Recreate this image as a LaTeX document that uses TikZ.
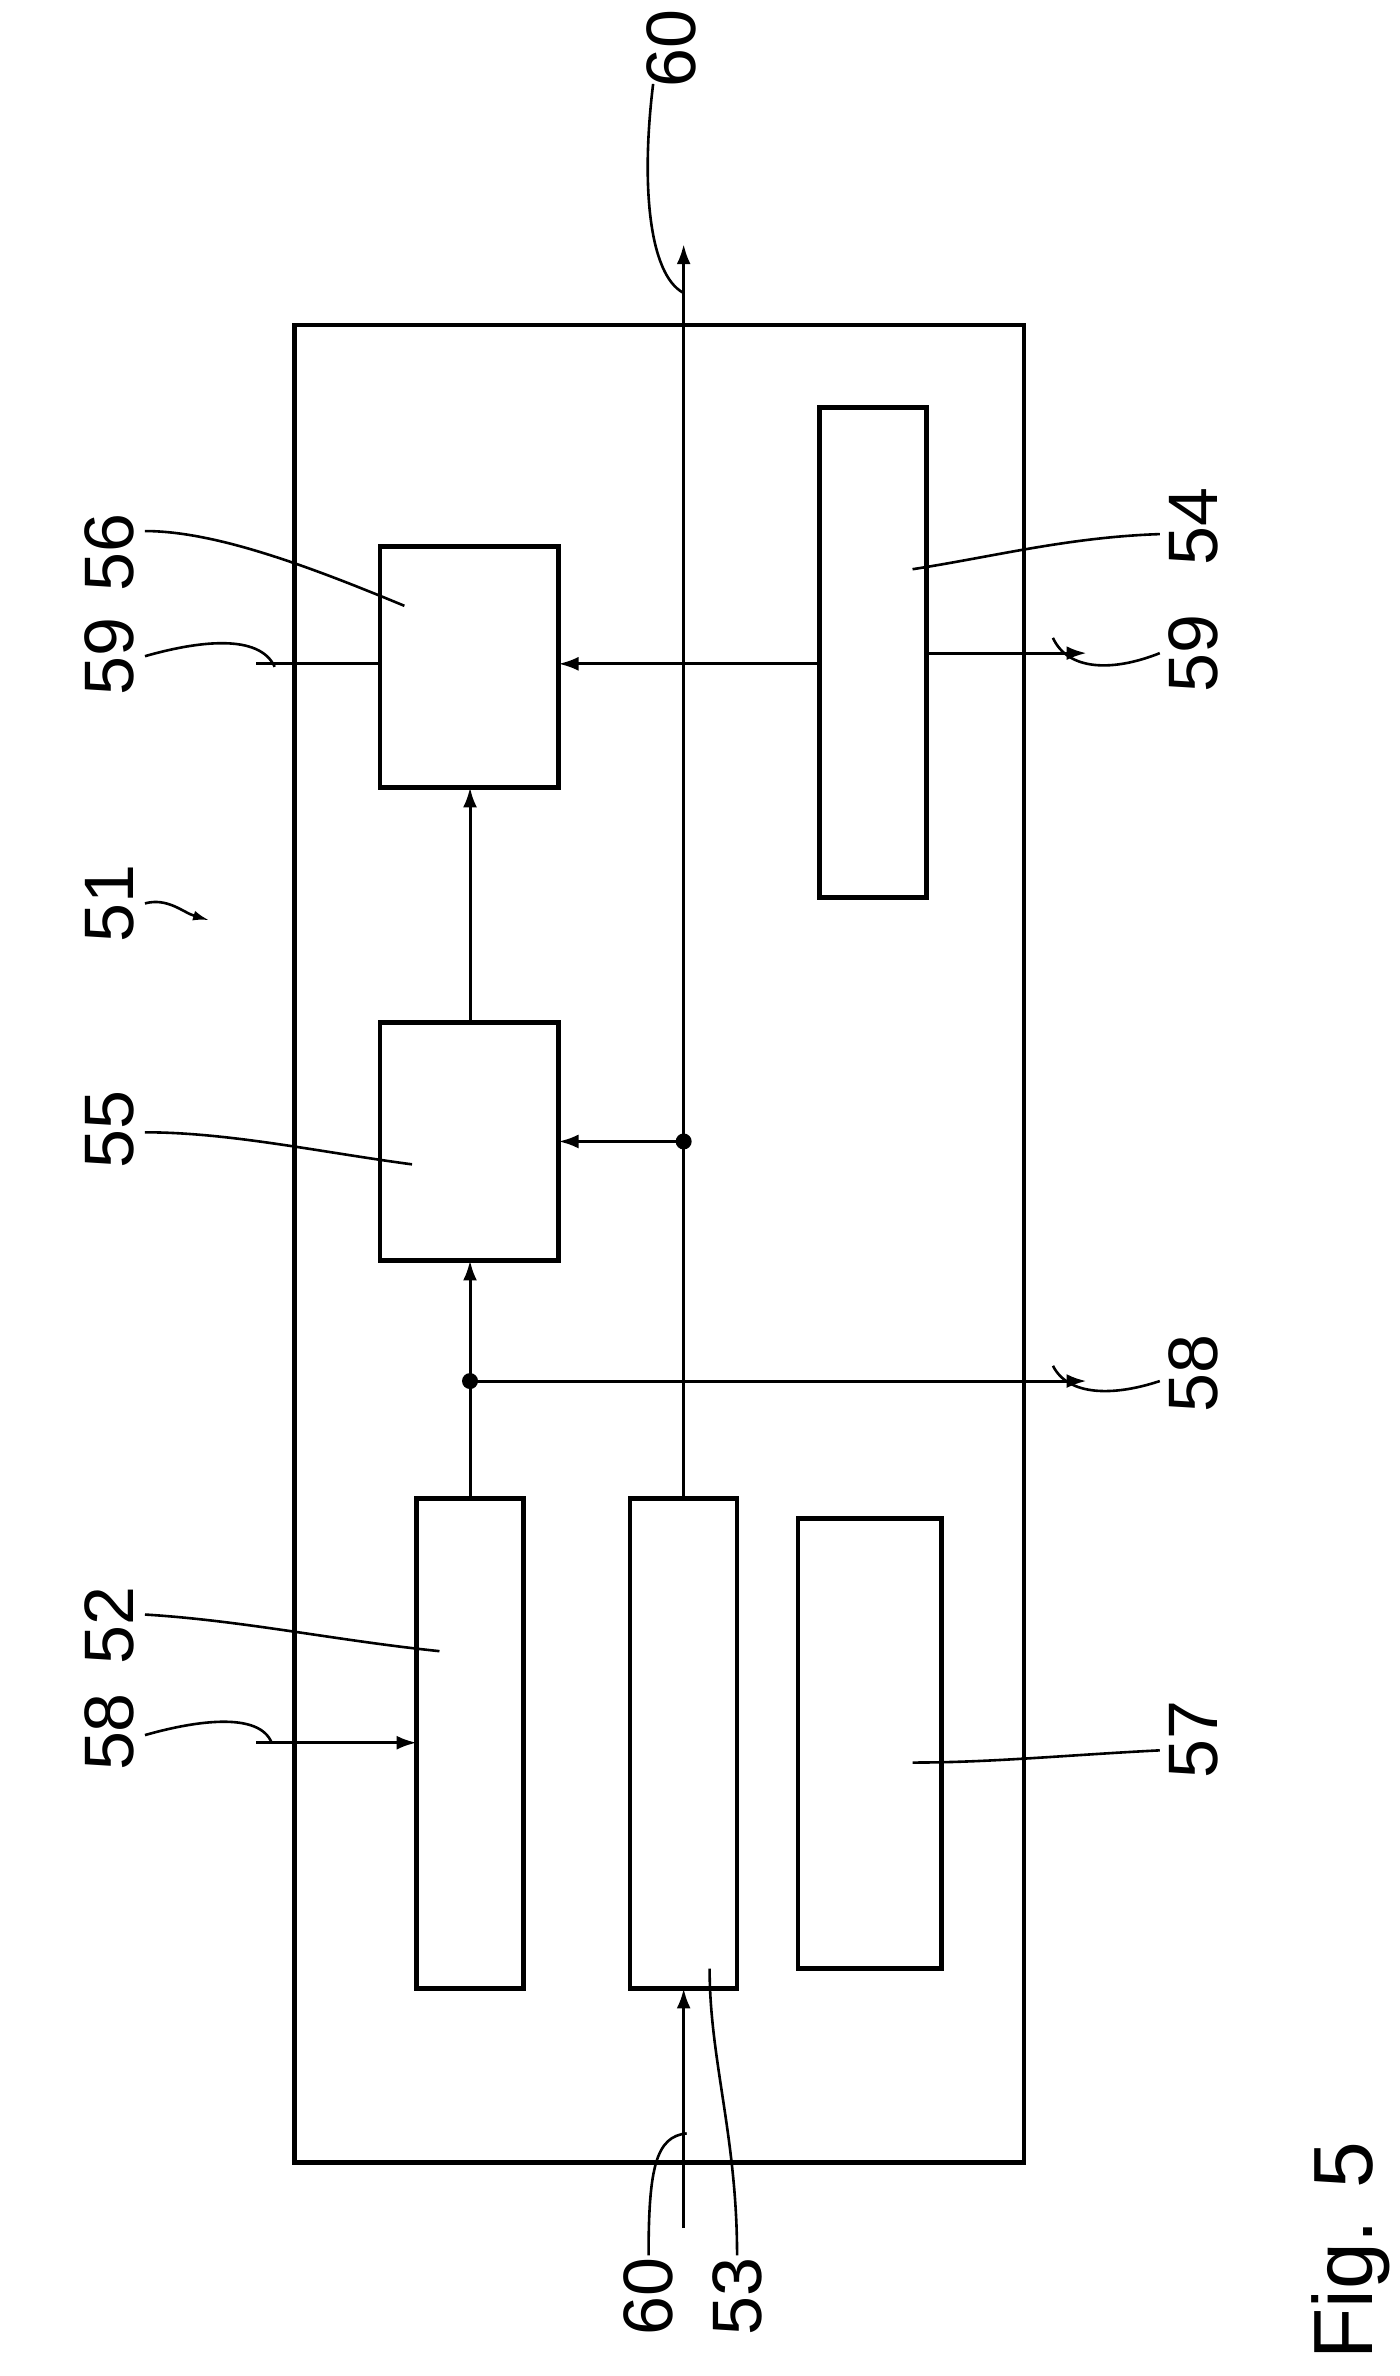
\documentclass[tikz,border=0pt]{standalone}
\usepackage{fontspec}
\setmainfont{Liberation Sans}
\usetikzlibrary{arrows.meta}
\begin{document}
\begin{tikzpicture}[x=0.763pt,y=-0.763pt,
 box/.style={draw,line width=2.2pt},
 ln/.style={line width=1.5pt},
 ar/.style={ln,-{Latex[length=10pt,width=7pt]}},
 lab/.style={rotate=90,font=\fontsize{35}{35}\selectfont,inner sep=0pt},
 ld/.style={line width=1.3pt},
 dot/.style={circle,fill,inner sep=0pt,minimum size=8pt}]
\useasboundingbox (0,0) rectangle (917,1557);
\draw[box] (193,213) rectangle (671,1417);
\draw[box] (249,358) rectangle (366,516);
\draw[box] (249,670) rectangle (366,826);
\draw[box] (273,982) rectangle (343,1303);
\draw[box] (413,982) rectangle (483,1303);
\draw[box] (523,995) rectangle (617,1290);
\draw[box] (537,267) rectangle (607,588);
\coordinate (d1) at (448,748);
\coordinate (d2) at (308,905);
\node[dot] at (d1) {}; \node[dot] at (d2) {};
\draw[ar] (448,1460) -- (448,1303);
\draw[ar] (448,982) -- (448,160);
\draw[ar] (d1) -- (366,748);
\draw[ar] (308,982) -- (308,826);
\draw[ar] (d2) -- (712,905);
\draw[ar] (308,670) -- (308,516);
\draw[ar] (537,435) -- (366,435);
\draw[ar] (607,428) -- (712,428);
\draw[ln] (168,435) -- (249,435);
\draw[ar] (168,1142) -- (273,1142);
% labels
\node[lab] (l56) at (72,362) {56};
\draw[ld] (95,348) .. controls (140,348) and (200,370) .. (265,397);
\node[lab] (l59a) at (72,430) {59};
\draw[ld] (95,430) .. controls (130,420) and (170,415) .. (180,437);
\node[lab] (l51) at (72,592) {51};
\draw[ld,-{Latex[length=8pt,width=5pt]}] (95,592) .. controls (110,588) and (120,598) .. (137,603);
\node[lab] (l55) at (72,740) {55};
\draw[ld] (95,742) .. controls (150,742) and (210,755) .. (270,763);
\node[lab] (l52) at (72,1065) {52};
\draw[ld] (95,1058) .. controls (160,1062) and (220,1075) .. (288,1082);
\node[lab] (l58a) at (72,1135) {58};
\draw[ld] (95,1137) .. controls (130,1127) and (170,1122) .. (178,1142);
\node[lab] (l60b) at (425,1505) {60};
\draw[ld] (425,1478) .. controls (425,1420) and (430,1400) .. (450,1398);
\node[lab] (l53) at (483,1505) {53};
\draw[ld] (483,1478) .. controls (483,1400) and (465,1350) .. (465,1290);
\node[lab] (l60t) at (440,32) {60};
\draw[ld] (428,55) .. controls (420,120) and (425,180) .. (448,192);
\node[lab] (l54) at (782,345) {54};
\draw[ld] (760,350) .. controls (700,352) and (650,365) .. (598,373);
\node[lab] (l59b) at (782,428) {59};
\draw[ld] (760,428) .. controls (730,440) and (700,440) .. (690,418);
\node[lab] (l58b) at (782,900) {58};
\draw[ld] (760,905) .. controls (730,915) and (700,915) .. (690,895);
\node[lab] (l57) at (782,1140) {57};
\draw[ld] (760,1147) .. controls (700,1150) and (650,1155) .. (598,1155);
\node[lab,font=\fontsize{42}{42}\selectfont] (fig) at (885,1475) {Fig. 5};
\end{tikzpicture}
\end{document}
